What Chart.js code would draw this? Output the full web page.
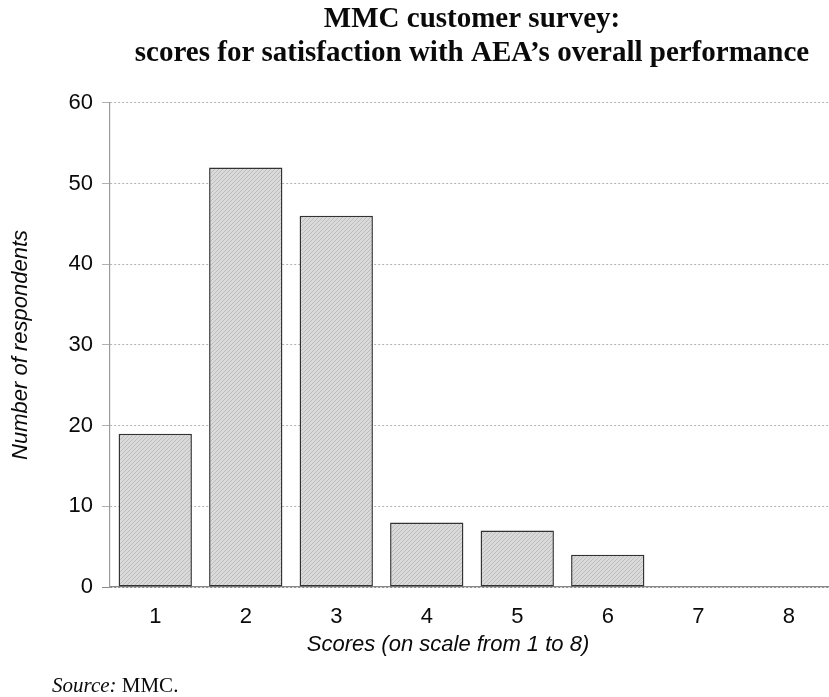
<!DOCTYPE html>
<html>
<head>
<meta charset="utf-8">
<script src="https://cdn.jsdelivr.net/npm/chart.js@4/dist/chart.umd.min.js"></script>
<style>
  html, body { margin: 0; padding: 0; background: #ffffff; overflow: hidden; }
  #wrap { position: relative; width: 840px; height: 697px; }
  canvas { display: block; }
</style>
</head>
<body>
<div id="wrap"><canvas id="chart" width="840" height="697"></canvas></div>
<script>
// Survey scores (1 = lowest, 8 = highest) and how many respondents gave each
const scores = ['1', '2', '3', '4', '5', '6', '7', '8'];
const respondents = [19, 52, 46, 8, 7, 4, 0, 0];
const yTicks = [0, 10, 20, 30, 40, 50, 60];

const titleLines = ['MMC customer survey:', 'scores for satisfaction with AEA\u2019s overall performance'];
const xAxisTitle = 'Scores (on scale from 1 to 8)';
const yAxisTitle = 'Number of respondents';
const sourceLabel = 'Source:';
const sourceName = ' MMC.';

const SANS = '"Liberation Sans", Arial, Helvetica, sans-serif';
const SERIF = '"Liberation Serif", "Times New Roman", serif';
const INK = '#0a0a0a';

// Light halftone-style fill for the bars
function makeBarFill() {
  const c = document.createElement('canvas');
  c.width = 4; c.height = 4;
  const g = c.getContext('2d');
  g.fillStyle = '#dadada';
  g.fillRect(0, 0, 4, 4);
  g.fillStyle = '#bdbdbd';
  for (let i = 0; i < 4; i++) g.fillRect(i, 3 - i, 1, 1);
  return g.createPattern(c, 'repeat');
}

// Draws the x-axis caption and the source line below the chart
const captions = {
  id: 'captions',
  afterDraw(chart) {
    const { ctx, chartArea } = chart;
    ctx.save();
    ctx.fillStyle = INK;
    ctx.textBaseline = 'alphabetic';
    ctx.textAlign = 'center';
    ctx.font = 'italic 22px ' + SANS;
    const mid = (chartArea.left + chartArea.right) / 2;
    ctx.fillText(xAxisTitle, mid - 24, chartArea.bottom + 64);

    ctx.textAlign = 'left';
    const sx = 52, sy = chartArea.bottom + 105;
    ctx.font = 'italic 21px ' + SERIF;
    ctx.fillText(sourceLabel, sx, sy);
    const w = ctx.measureText(sourceLabel).width;
    ctx.font = '21px ' + SERIF;
    ctx.fillText(sourceName, sx + w, sy);
    ctx.restore();
  }
};

new Chart(document.getElementById('chart'), {
  type: 'bar',
  data: {
    labels: scores,
    datasets: [{
      data: respondents,
      backgroundColor: makeBarFill(),
      borderColor: '#333333',
      borderWidth: 1.5,
      borderSkipped: false,
      categoryPercentage: 1.0,
      barPercentage: 0.81
    }]
  },
  options: {
    responsive: false,
    animation: false,
    layout: { padding: { left: 0, right: 6, top: 0, bottom: 0 } },
    plugins: {
      legend: { display: false },
      tooltip: { enabled: false },
      title: {
        display: true,
        fullSize: false,
        text: titleLines,
        color: INK,
        font: { family: SERIF, size: 29, weight: 'bold', lineHeight: 1.17 },
        padding: { top: 3, bottom: 32 }
      }
    },
    scales: {
      x: {
        grid: { display: false, drawTicks: false },
        border: { display: true, color: '#888888', width: 1.2 },
        ticks: { color: INK, font: { family: SANS, size: 22 }, padding: 17 },
        afterFit(scale) { scale.height = 110; }
      },
      y: {
        min: 0,
        max: 60,
        afterBuildTicks(scale) { scale.ticks = yTicks.map(v => ({ value: v })); },
        grid: {
          color: (c) => (c.tick && c.tick.value === 0 ? '#8a8a8a' : '#b2b2b2'),
          lineWidth: 1,
          drawTicks: true,
          tickLength: 8
        },
        border: { display: true, color: '#9a9a9a', width: 1.2, dash: [2, 2] },
        ticks: { color: INK, font: { family: SANS, size: 22 }, padding: 9 },
        title: {
          display: true,
          text: yAxisTitle,
          color: INK,
          font: { family: SANS, size: 22, style: 'italic' },
          padding: { top: 8, bottom: 0 }
        },
        afterFit(scale) { scale.width = 110; }
      }
    }
  },
  plugins: [captions]
});
</script>
</body>
</html>
